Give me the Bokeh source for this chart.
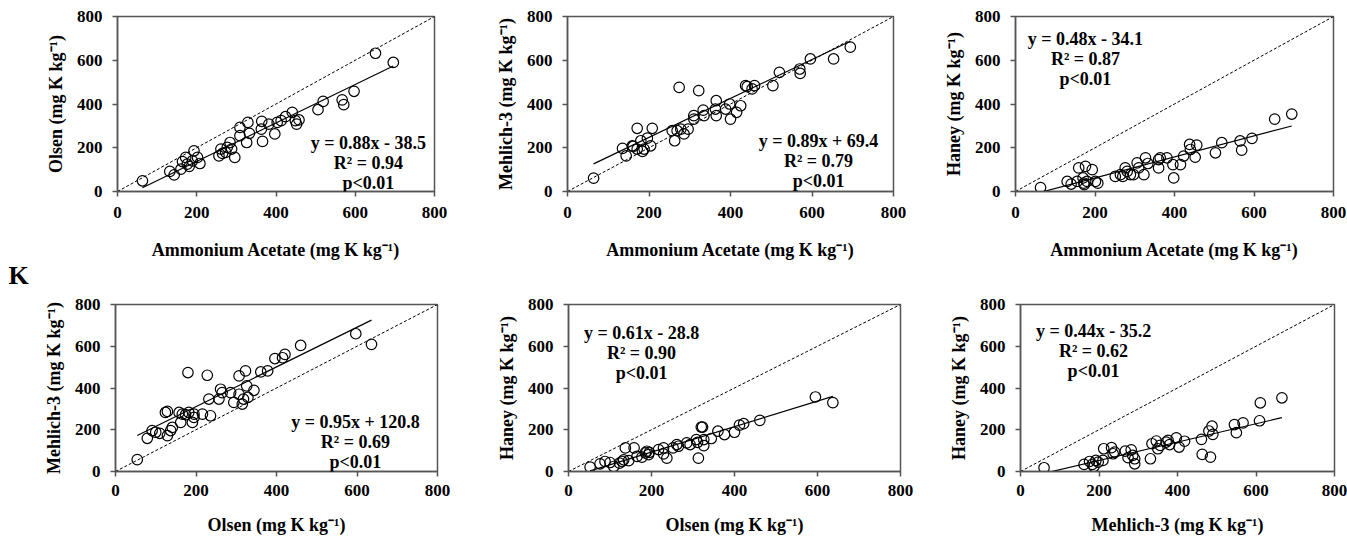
from bokeh.plotting import figure
from bokeh.layouts import column, row
from bokeh.models import Label, FixedTicker, Range1d
from bokeh.core.properties import value
from bokeh.embed import file_html
from bokeh.resources import INLINE

# ---------------- data ----------------
ticks = [0, 200, 400, 600, 800]
one_to_one = [0, 800]

# Panel 1: Ammonium Acetate vs Olsen
p1_x = [63, 132, 143, 160, 164, 172, 176, 181, 189, 193, 208, 202, 256, 261, 265, 273, 277, 284, 288, 296,
        309, 309, 329, 326, 333, 364, 363, 366, 382, 397, 403, 413, 424, 441, 449, 458, 452, 506, 519, 567,
        571, 597, 651, 696]
p1_y = [49, 92, 76, 102, 137, 156, 125, 115, 140, 186, 128, 156, 163, 194, 174, 179, 202, 224, 194, 156,
        255, 293, 316, 224, 266, 321, 285, 229, 308, 263, 316, 324, 342, 362, 324, 327, 308, 374, 412, 419,
        397, 458, 632, 590]

# Panel 2: Ammonium Acetate vs Mehlich-3
p2_x = [64, 135, 144, 159, 161, 171, 171, 180, 184, 188, 196, 204, 208, 257, 263, 269, 274, 278, 286, 296,
        310, 310, 322, 333, 335, 363, 365, 365, 388, 398, 400, 415, 425, 437, 441, 453, 459, 504, 520, 570,
        571, 596, 653, 694]
p2_y = [61, 197, 163, 209, 206, 289, 194, 232, 183, 194, 244, 209, 289, 278, 232, 278, 476, 285, 263, 285,
        347, 331, 461, 372, 347, 377, 415, 347, 377, 400, 331, 362, 392, 484, 479, 469, 484, 484, 545, 560,
        540, 606, 606, 660]

# Panel 3: Ammonium Acetate vs Haney
p3_x = [63, 130, 140, 155, 159, 170, 172, 173, 176, 180, 193, 201, 207, 251, 264, 270, 276, 281, 289, 297,
        306, 310, 323, 327, 333, 360, 360, 364, 381, 396, 398, 415, 423, 438, 440, 452, 456, 503, 519, 565,
        569, 595, 652, 695]
p3_y = [18, 46, 34, 46, 108, 62, 38, 31, 115, 46, 100, 46, 38, 69, 77, 69, 108, 92, 77, 77,
        131, 108, 77, 154, 128, 146, 108, 154, 154, 123, 62, 123, 162, 215, 192, 157, 212, 177, 223, 231,
        189, 243, 331, 354]

# Panel 4: Olsen vs Mehlich-3
p4_x = [54, 79, 91, 100, 110, 124, 129, 129, 137, 141, 158, 162, 166, 174, 180, 182, 191, 195, 195, 216,
        228, 232, 236, 261, 257, 265, 286, 294, 307, 307, 315, 318, 323, 326, 329, 344, 361, 378, 396, 415,
        421, 460, 597, 636]
p4_y = [57, 159, 196, 188, 183, 283, 288, 172, 196, 211, 283, 235, 275, 272, 474, 283, 235, 275, 259, 275,
        461, 347, 267, 394, 347, 378, 378, 331, 458, 370, 323, 347, 482, 410, 355, 389, 477, 482, 541, 545,
        561, 604, 660, 609]

# Panel 5: Olsen vs Haney
p5_x = [52, 76, 88, 100, 109, 123, 129, 133, 137, 145, 158, 165, 177, 185, 189, 193, 195, 217, 229, 229,
        237, 252, 261, 265, 285, 293, 308, 311, 313, 323, 320, 326, 326, 344, 360, 376, 400, 412, 422, 461,
        595, 637]
p5_y = [21, 37, 48, 43, 24, 40, 48, 56, 113, 52, 113, 72, 69, 89, 97, 81, 92, 105, 113, 84,
        64, 113, 129, 121, 137, 129, 153, 140, 64, 213, 213, 153, 124, 158, 193, 177, 188, 222, 229, 245,
        357, 330]

# Panel 6: Mehlich-3 vs Haney
p6_x = [60, 162, 176, 183, 187, 192, 198, 210, 212, 232, 236, 240, 267, 274, 282, 286, 291, 291, 331, 335,
        346, 350, 356, 371, 376, 380, 397, 404, 418, 461, 463, 484, 480, 488, 490, 545, 550, 567, 609, 611,
        666]
p6_y = [18, 34, 48, 34, 24, 53, 45, 53, 109, 114, 85, 93, 98, 66, 104, 77, 61, 37, 61, 133,
        146, 109, 125, 141, 149, 129, 161, 117, 145, 154, 82, 69, 194, 217, 178, 225, 186, 233, 243, 329,
        353]

slopes = [0.88, 0.89, 0.48, 0.95, 0.61, 0.44]
intercepts = [-38.5, 69.4, -34.1, 120.8, -28.8, -35.2]
equations = ["y = 0.88x - 38.5", "y = 0.89x + 69.4", "y = 0.48x - 34.1",
             "y = 0.95x + 120.8", "y = 0.61x - 28.8", "y = 0.44x - 35.2"]
r2_labels = ["R\u00b2 = 0.94", "R\u00b2 = 0.79", "R\u00b2 = 0.87",
             "R\u00b2 = 0.69", "R\u00b2 = 0.90", "R\u00b2 = 0.62"]
p_label = "p<0.01"
x_labels = ["Ammonium Acetate (mg K kg\u207b\u00b9)"] * 3 + ["Olsen (mg K kg\u207b\u00b9)"] * 2 + ["Mehlich-3 (mg K kg\u207b\u00b9)"]
y_labels = ["Olsen (mg K kg\u207b\u00b9)", "Mehlich-3 (mg K kg\u207b\u00b9)", "Haney (mg K kg\u207b\u00b9)",
            "Mehlich-3 (mg K kg\u207b\u00b9)", "Haney (mg K kg\u207b\u00b9)", "Haney (mg K kg\u207b\u00b9)"]
panel_letter = "K"

FONT = "Liberation Serif"
AX = "#555555"
STRIP_W = 36
TOTAL_H = 539


def make_panel(i, xs, ys, fw, fh, bl, br, bt, bb, tx, ty, xtick_standoff, xlab_standoff):
    p = figure(frame_width=fw, frame_height=fh,
               min_border_left=bl, min_border_right=br, min_border_top=bt, min_border_bottom=bb,
               x_range=Range1d(0, 800), y_range=Range1d(0, 800),
               output_backend="svg", toolbar_location=None, tools="")
    p.grid.visible = False
    p.outline_line_color = AX
    p.outline_line_width = 1.5
    p.background_fill_color = "white"
    p.border_fill_color = "white"
    for ax in (p.xaxis[0], p.yaxis[0]):
        ax.ticker = FixedTicker(ticks=ticks)
        ax.major_tick_out = 5
        ax.major_tick_in = 0
        ax.minor_tick_out = 0
        ax.minor_tick_in = 0
        ax.axis_line_color = AX
        ax.axis_line_width = 1.5
        ax.major_tick_line_color = AX
        ax.major_tick_line_width = 1.5
        ax.major_label_text_font = FONT
        ax.major_label_text_font_style = "bold"
        ax.major_label_text_font_size = "17px"
        ax.major_label_text_color = "black"
        ax.axis_label_text_font = FONT
        ax.axis_label_text_font_style = "bold"
        ax.axis_label_text_font_size = "18px"
        ax.axis_label_text_color = "black"
    p.xaxis.axis_label = x_labels[i]
    p.yaxis.axis_label = y_labels[i]
    p.xaxis.major_label_standoff = xtick_standoff
    p.yaxis.major_label_standoff = 10
    p.xaxis.axis_label_standoff = xlab_standoff
    p.yaxis.axis_label_standoff = 8

    # 1:1 line
    p.line(one_to_one, one_to_one, line_color="black", line_width=1, line_dash="3 2")
    # regression line
    x0, x1 = min(xs), max(xs)
    p.line([x0, x1], [slopes[i] * x0 + intercepts[i], slopes[i] * x1 + intercepts[i]],
           line_color="black", line_width=1.2)
    # points
    p.scatter(xs, ys, marker="circle", size=10.5, fill_color=None, line_color="black", line_width=1.2)

    # equation text, 20 px line spacing
    per_px = 800.0 / fh
    for j, t in enumerate([equations[i], r2_labels[i], p_label]):
        p.add_layout(Label(x=tx, y=ty - j * 20 * per_px, text=t, text_align="center",
                           text_baseline="alphabetic", text_font=FONT, text_font_style="bold",
                           text_font_size="18px", text_color="black"))
    return p


# narrow strip on the left holding the panel letter
strip = figure(frame_width=STRIP_W, frame_height=TOTAL_H, min_border=0,
               x_range=Range1d(0, STRIP_W), y_range=Range1d(TOTAL_H, 0),
               output_backend="svg", toolbar_location=None, tools="")
strip.axis.visible = False
strip.grid.visible = False
strip.outline_line_color = None
strip.text(x=[18], y=[275], text=[panel_letter], text_align="center", text_baseline="alphabetic",
           text_font=value(FONT), text_font_style="bold", text_font_size="26px", text_color="black")

# top row: 278 px high; bottom row: 261 px high (page has no margin)
p1 = make_panel(0, p1_x, p1_y, 317, 175, 117 - STRIP_W, 56, 16, 87, 633, 224, 10, 19)
p2 = make_panel(1, p2_x, p2_y, 326, 175, 77, 47, 16, 87, 616, 229, 10, 19)
p3 = make_panel(2, p3_x, p3_y, 318, 175, 72, 15, 16, 87, 176, 699, 10, 19)
p4 = make_panel(3, p4_x, p4_y, 322, 167, 115 - STRIP_W, 53, 26, 68, 596, 238, 8, 16)
p5 = make_panel(4, p5_x, p5_y, 332, 167, 78, 45, 26, 68, 176, 665, 8, 16)
p6 = make_panel(5, p6_x, p6_y, 314, 167, 73, 13, 26, 68, 186, 675, 8, 16)

layout = row(strip, column(row(p1, p2, p3), row(p4, p5, p6)))
open("out.html", "w").write(file_html(layout, INLINE))
